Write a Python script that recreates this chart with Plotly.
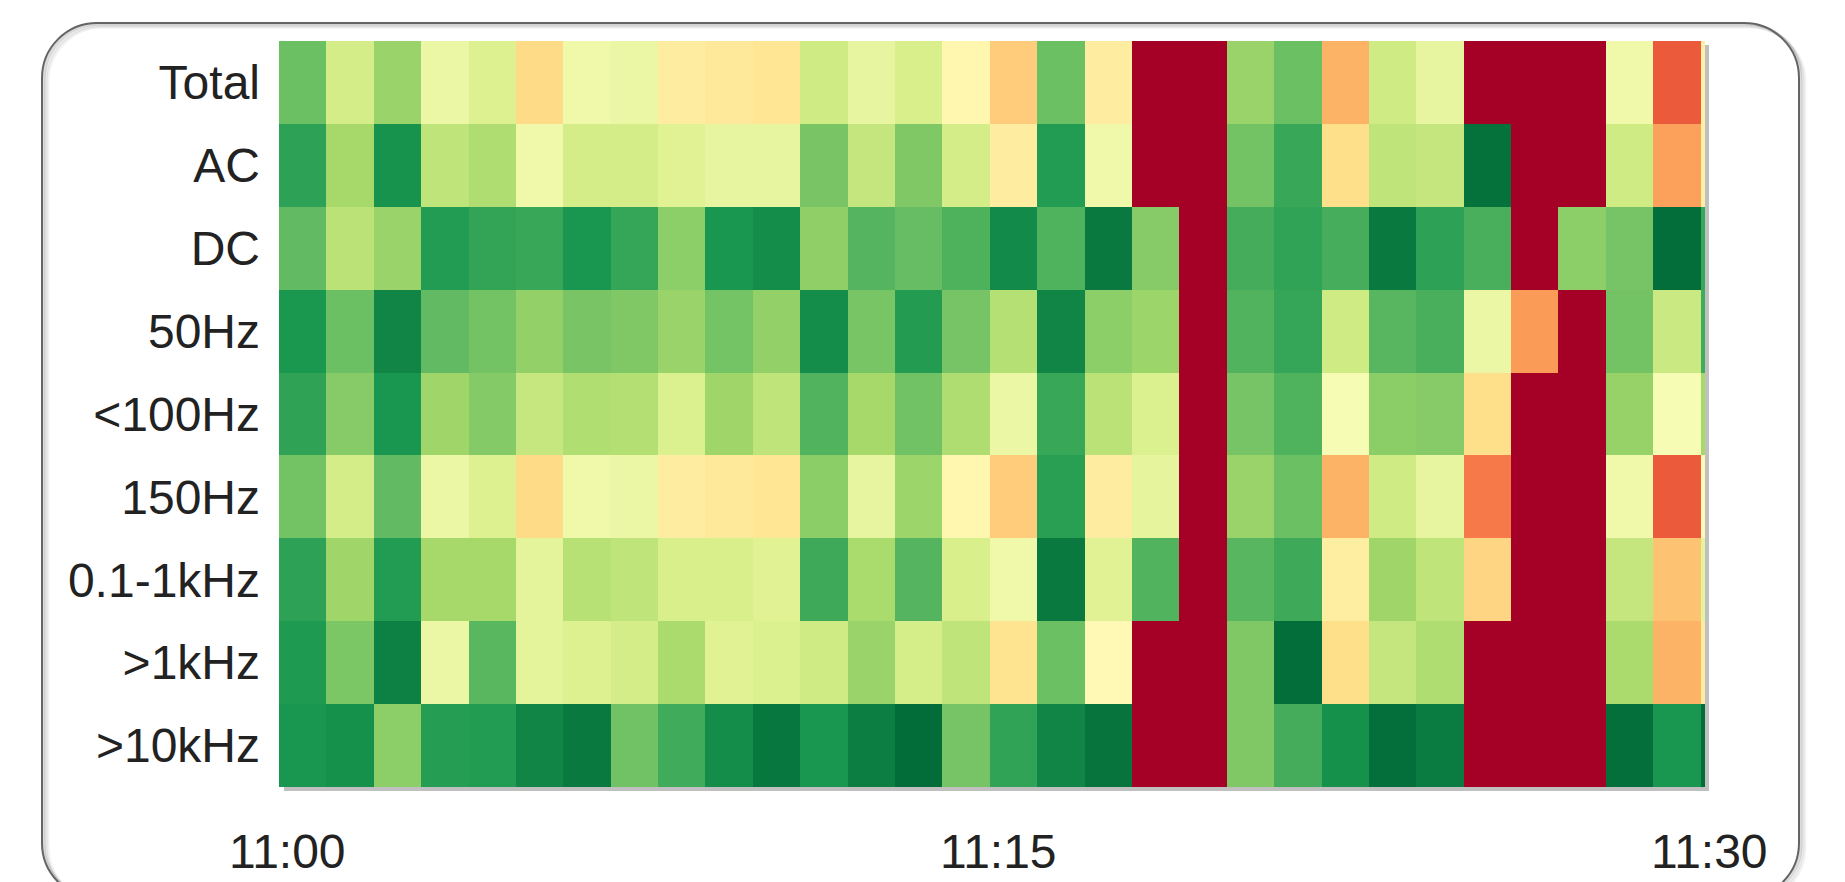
import plotly.graph_objects as go

# ---------------- data ----------------
row_labels = ["Total", "AC", "DC", "50Hz", "<100Hz", "150Hz", "0.1-1kHz", ">1kHz", ">10kHz"]
minutes = list(range(31))          # 11:00 ... 11:30, one column per minute
tick_minutes = [0, 15, 30]
tick_labels = ["11:00", "11:15", "11:30"]

total = [0.21, 0.39, 0.28, 0.45, 0.41, 0.61, 0.46, 0.45, 0.56, 0.57, 0.58, 0.38, 0.44, 0.40, 0.53, 0.64,
         0.21, 0.56, 1.00, 1.00, 0.28, 0.21, 0.69, 0.38, 0.44, 1.00, 1.00, 1.00, 0.46, 0.83, 0.55]
ac = [0.125, 0.30, 0.09, 0.35, 0.32, 0.46, 0.39, 0.39, 0.42, 0.44, 0.44, 0.23, 0.36, 0.24, 0.39, 0.56,
      0.11, 0.46, 1.00, 1.00, 0.22, 0.14, 0.60, 0.35, 0.36, 0.02, 1.00, 1.00, 0.38, 0.72, 0.55]
dc = [0.195, 0.34, 0.28, 0.11, 0.133, 0.14, 0.095, 0.136, 0.26, 0.095, 0.078, 0.265, 0.177, 0.20, 0.169, 0.07,
      0.17, 0.035, 0.25, 1.00, 0.155, 0.13, 0.157, 0.036, 0.125, 0.162, 1.00, 0.26, 0.225, 0.012, 0.14]
hz50 = [0.10, 0.21, 0.06, 0.195, 0.22, 0.27, 0.23, 0.24, 0.28, 0.222, 0.27, 0.078, 0.228, 0.112, 0.225, 0.33,
        0.06, 0.26, 0.285, 1.00, 0.174, 0.136, 0.38, 0.18, 0.162, 0.45, 0.73, 1.00, 0.22, 0.373, 0.15]
lt100 = [0.128, 0.25, 0.095, 0.29, 0.247, 0.363, 0.321, 0.327, 0.405, 0.29, 0.35, 0.174, 0.30, 0.217, 0.32, 0.45,
         0.14, 0.34, 0.405, 1.00, 0.225, 0.17, 0.48, 0.258, 0.25, 0.60, 1.00, 1.00, 0.275, 0.48, 0.30]
hz150 = [0.22, 0.39, 0.195, 0.45, 0.41, 0.61, 0.46, 0.45, 0.56, 0.57, 0.58, 0.258, 0.44, 0.285, 0.53, 0.64,
         0.118, 0.56, 0.435, 1.00, 0.28, 0.21, 0.69, 0.38, 0.44, 0.78, 1.00, 1.00, 0.46, 0.83, 0.52]
k01_1 = [0.125, 0.29, 0.11, 0.30, 0.30, 0.43, 0.333, 0.35, 0.40, 0.40, 0.42, 0.148, 0.308, 0.177, 0.40, 0.46,
         0.035, 0.42, 0.174, 1.00, 0.18, 0.148, 0.555, 0.29, 0.35, 0.62, 1.00, 1.00, 0.36, 0.66, 0.43]
gt1k = [0.105, 0.235, 0.05, 0.45, 0.183, 0.43, 0.41, 0.39, 0.31, 0.42, 0.405, 0.38, 0.28, 0.395, 0.35, 0.59,
        0.21, 0.52, 1.00, 1.00, 0.24, 0.012, 0.60, 0.36, 0.32, 1.00, 1.00, 1.00, 0.31, 0.69, 0.56]
gt10k = [0.095, 0.085, 0.26, 0.115, 0.11, 0.06, 0.035, 0.217, 0.15, 0.075, 0.03, 0.095, 0.045, 0.01, 0.225, 0.13,
         0.06, 0.025, 1.00, 1.00, 0.24, 0.155, 0.085, 0.015, 0.04, 1.00, 1.00, 1.00, 0.015, 0.095, 0.01]

z = [total, ac, dc, hz50, lt100, hz150, k01_1, gt1k, gt10k]

# ---------------- layout geometry (pixels) ----------------
W, H = 1845, 882
PL, PR, PT, PB = 279, 1705, 41, 787          # plot area
FONT = "Liberation Sans, Arial, sans-serif"
TXT = "#222222"


def px(x):
    return (x - PL) / (PR - PL)


def py(y):
    return (PB - y) / (PB - PT)


def rounded_path(x0, y0, x1, y1, r):
    k = 0.5523 * r
    pts = [
        f"M {px(x0 + r)},{py(y0)}",
        f"L {px(x1 - r)},{py(y0)}",
        f"C {px(x1 - r + k)},{py(y0)} {px(x1)},{py(y0 + r - k)} {px(x1)},{py(y0 + r)}",
        f"L {px(x1)},{py(y1 - r)}",
        f"C {px(x1)},{py(y1 - r + k)} {px(x1 - r + k)},{py(y1)} {px(x1 - r)},{py(y1)}",
        f"L {px(x0 + r)},{py(y1)}",
        f"C {px(x0 + r - k)},{py(y1)} {px(x0)},{py(y1 - r + k)} {px(x0)},{py(y1 - r)}",
        f"L {px(x0)},{py(y0 + r)}",
        f"C {px(x0)},{py(y0 + r - k)} {px(x0 + r - k)},{py(y0)} {px(x0 + r)},{py(y0)}",
        "Z",
    ]
    return " ".join(pts)


fig = go.Figure(
    go.Heatmap(
        z=z,
        x=minutes,
        y=row_labels,
        colorscale="RdYlGn",
        reversescale=True,
        zmin=0,
        zmax=1,
        showscale=False,
        hoverinfo="skip",
    )
)

shapes = []
# soft shadow of the rounded frame
for dx, dy, a in [(6, 4, 0.05), (4, 3, 0.08), (2, 1, 0.14)]:
    shapes.append(dict(type="path", xref="paper", yref="paper", layer="below",
                       path=rounded_path(42 + dx, 23 + dy, 1799 + dx, 898 + dy, 55),
                       line=dict(color=f"rgba(0,0,0,{a})", width=3)))
# frame
shapes.append(dict(type="path", xref="paper", yref="paper", layer="below",
                   path=rounded_path(42, 23, 1799, 898, 55),
                   line=dict(color="#646464", width=2)))
# drop shadow of heat map
shapes.append(dict(type="rect", xref="paper", yref="paper", layer="below",
                   x0=px(284), x1=px(1709), y0=py(791), y1=py(45),
                   fillcolor="#c0c0c0", line=dict(width=0)))

annotations = []
for m, lab in zip(tick_minutes, tick_labels):
    annotations.append(dict(x=m - 0.5, xref="x", y=0, yref="paper", text=lab, showarrow=False,
                            xanchor="center", yanchor="middle", xshift=8, yshift=-64,
                            font=dict(family=FONT, size=48, color=TXT)))

fig.update_layout(
    width=W,
    height=H,
    margin=dict(l=PL, r=W - PR, t=PT, b=H - PB, pad=0),
    paper_bgcolor="white",
    plot_bgcolor="white",
    shapes=shapes,
    annotations=annotations,
    xaxis=dict(range=[-0.5, 29.5 + 4 / 47.4], showticklabels=False, showgrid=False,
               zeroline=False, showline=False, ticks=""),
    yaxis=dict(type="category", autorange="reversed", showgrid=False, zeroline=False,
               showline=False, ticks="", ticklabelstandoff=18,
               tickfont=dict(family=FONT, size=48, color=TXT)),
    showlegend=False,
)

fig.write_html(
    "out.html",
    config={"displayModeBar": False},
    post_script="document.body.style.margin='0';document.body.style.overflow='hidden';",
)
